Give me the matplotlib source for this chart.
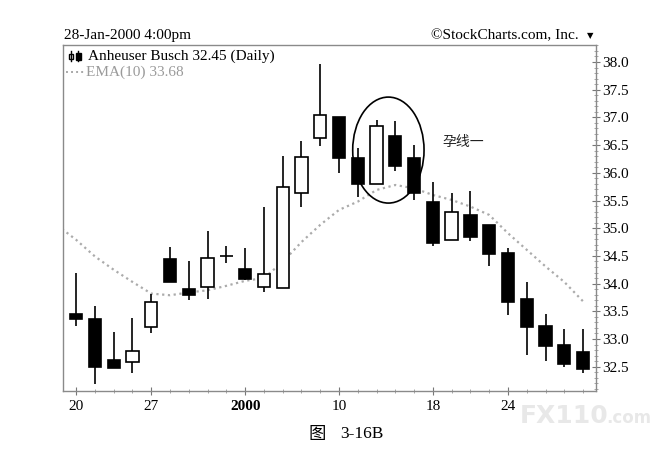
import numpy as np
import matplotlib
matplotlib.use("Agg")
import matplotlib.pyplot as plt
from matplotlib.patches import Ellipse, Rectangle
from matplotlib.lines import Line2D

plt.rcParams.update({
    "font.family": ["Liberation Serif", "Noto Sans CJK SC"],
    "font.size": 11,
})

# ---- data: Anheuser Busch daily, 20-Dec-1999 .. 28-Jan-2000 ----
opens  = [33.45, 33.37, 32.63, 32.58, 33.21, 34.45, 33.90, 33.93, 34.50, 34.26,
          33.93, 33.92, 35.63, 36.62, 37.00, 36.27, 35.79, 36.66, 36.27, 35.47,
          34.79, 35.23, 35.05, 34.55, 33.72, 33.23, 32.90, 32.76]
highs  = [34.20, 33.60, 33.13, 33.38, 33.81, 34.66, 34.40, 34.95, 34.67, 34.65,
          35.38, 36.30, 36.58, 37.96, 37.00, 36.44, 36.95, 36.94, 36.50, 35.84,
          35.64, 35.67, 35.05, 34.64, 34.02, 33.45, 33.18, 33.18]
lows   = [33.24, 32.19, 32.47, 32.38, 33.10, 34.02, 33.70, 33.73, 34.38, 34.07,
          33.84, 33.92, 35.38, 36.48, 35.99, 35.57, 35.79, 36.03, 35.51, 34.68,
          34.79, 34.77, 34.31, 33.43, 32.71, 32.60, 32.49, 32.38]
closes = [33.36, 32.50, 32.48, 32.79, 33.67, 34.02, 33.79, 34.47, 34.50, 34.08,
          34.17, 35.75, 36.28, 37.04, 36.26, 35.79, 36.85, 36.12, 35.64, 34.74,
          35.30, 34.85, 34.53, 33.66, 33.21, 32.87, 32.55, 32.45]
# EMA(10), first value is the day before the visible window
ema = [35.05, 34.79, 34.49, 34.25, 34.03, 33.82, 33.79, 33.84, 33.88, 33.96, 34.05,
       34.10, 34.39, 34.75, 35.06, 35.33, 35.48, 35.69, 35.78, 35.72, 35.60,
       35.51, 35.39, 35.24, 34.91, 34.61, 34.31, 34.03, 33.68]

tick_idx = [0, 4, 9, 14, 19, 23]
tick_labels = ["20", "27", "2000", "10", "18", "24"]
y_ticks = [32.5, 33.0, 33.5, 34.0, 34.5, 35.0, 35.5, 36.0, 36.5, 37.0, 37.5, 38.0]

x = np.arange(len(opens))
o = np.array(opens); c = np.array(closes)
h = np.array(highs); l = np.array(lows)
up = c >= o

fig = plt.figure(figsize=(6.64, 4.59), dpi=100)
ax = fig.add_axes([0.0956, 0.1488, 0.802, 0.7532])

# EMA dotted line
ax.plot(np.arange(-1, len(opens)), ema, color="#ababab", lw=1.6,
        ls=(0, (1, 1.6)), zorder=1)

# candles
ax.vlines(x, l, h, color="black", lw=1.2, zorder=2)
bw = 0.655
ax.bar(x[up], c[up] - o[up], bottom=o[up], width=bw, facecolor="white",
       edgecolor="black", lw=1.2, zorder=3)
ax.bar(x[~up], o[~up] - c[~up], bottom=c[~up], width=bw, facecolor="black",
       edgecolor="black", lw=1.2, zorder=3)

# harami highlight
ax.add_patch(Ellipse((16.63, 36.41), 3.80, 1.913, fill=False, ec="black",
                     lw=1.2, zorder=4))
ax.text(19.5, 36.56, "孕线一", fontsize=10, va="center", ha="left",
        family=["Noto Sans CJK SC"], color="#222222")

ax.set_xlim(-0.676, 27.69)
ax.set_ylim(32.067, 38.307)

# axes styling
for s in ax.spines.values():
    s.set_color("#8a8a8a")
    s.set_linewidth(1.0)
ax.yaxis.tick_right()
ax.set_yticks(y_ticks)
ax.set_yticklabels([f"{v:.1f}" for v in y_ticks])
ax.set_yticks(np.arange(32.1, 38.31, 0.1), minor=True)
ax.tick_params(axis="y", which="major", direction="inout", length=6,
               width=0.8, color="#777777", pad=1.5, labelsize=11)
ax.tick_params(axis="y", which="minor", direction="inout", length=3,
               width=0.6, color="#999999")
ax.set_xticks(tick_idx)
ax.set_xticklabels(tick_labels)
ax.get_xticklabels()[2].set_fontweight("bold")
ax.set_xticks(np.arange(0, 28), minor=True)
ax.tick_params(axis="x", which="major", direction="inout", length=6,
               width=0.8, color="#777777", pad=4, labelsize=11)
ax.tick_params(axis="x", which="minor", direction="inout", length=2.5,
               width=0.6, color="#999999")

# header texts (figure pixel coordinates -> fractions)
W, H = 664.0, 459.0
fig.text(64 / W, 1 - 36 / H, "28-Jan-2000 4:00pm", ha="left", va="center",
         fontsize=11)
fig.text(579 / W, 1 - 36 / H, "©StockCharts.com, Inc.", ha="right",
         va="center", fontsize=11)
fig.text(590 / W, 1 - 36 / H, "▼", ha="center", va="center", fontsize=6,
         family=["DejaVu Sans"])

# legend
fig.text(88 / W, 1 - 56.5 / H, "Anheuser Busch 32.45 (Daily)", ha="left",
         va="center", fontsize=11)
fig.text(86 / W, 1 - 72.5 / H, "EMA(10) 33.68", ha="left", va="center",
         fontsize=11, color="#9a9a9a")
fig.add_artist(Line2D([66 / W, 84 / W], [1 - 72 / H, 1 - 72 / H],
                      transform=fig.transFigure, color="#a8a8a8", lw=1.4,
                      ls=(0, (1, 1.6))))
# tiny candle icon
fig.add_artist(Line2D([71 / W, 71 / W], [1 - 51 / H, 1 - 61 / H],
                      transform=fig.transFigure, color="black", lw=1))
fig.add_artist(Rectangle((69 / W, 1 - 59 / H), 4 / W, 5 / H,
                         transform=fig.transFigure, fc="white", ec="black", lw=1))
fig.add_artist(Line2D([78 / W, 78 / W], [1 - 51 / H, 1 - 61 / H],
                      transform=fig.transFigure, color="black", lw=1))
fig.add_artist(Rectangle((76 / W, 1 - 60 / H), 4.5 / W, 7 / H,
                         transform=fig.transFigure, fc="black", ec="black", lw=1))

# caption
fig.text(317 / W, 1 - 434 / H, "图", ha="center", va="center", fontsize=12.5,
         family=["Noto Sans CJK SC"])
fig.text(340 / W, 1 - 434 / H, "3-16B", ha="left", va="center", fontsize=12.5)

# source watermark (kept clear of the "24" tick label)
fig.text(520 / W, 1 - 423 / H, "FX110", ha="left", va="baseline", fontsize=18,
         fontweight="bold", family=["DejaVu Sans"], color="#e8e8e8", zorder=10)
fig.text(606 / W, 1 - 423 / H, ".com", ha="left", va="baseline", fontsize=12,
         fontweight="bold", family=["DejaVu Sans"], color="#e8e8e8", zorder=10)

fig.savefig("out.png", dpi=100)
